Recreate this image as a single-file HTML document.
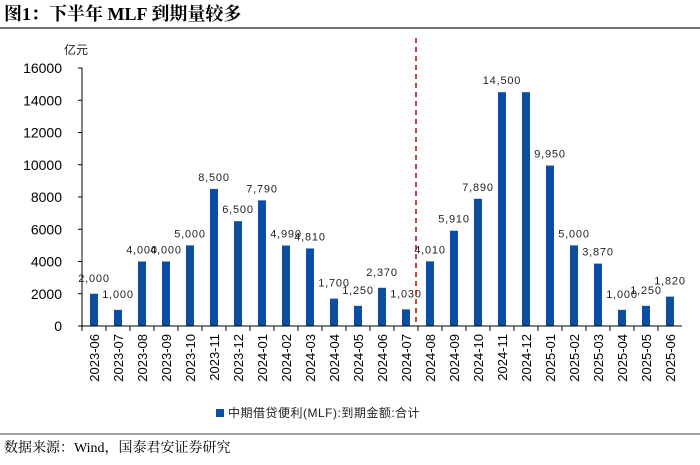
<!DOCTYPE html>
<html><head><meta charset="utf-8"><style>
body{margin:0;background:#fff;width:700px;height:460px;overflow:hidden;font-family:"Liberation Sans","Noto Sans CJK SC",sans-serif;}
</style></head><body>
<svg width="700" height="460" xmlns="http://www.w3.org/2000/svg">
<text x="4" y="20" font-size="18" font-weight="bold" font-family="Liberation Serif, Noto Serif CJK SC, serif" fill="#000">图1：下半年 MLF 到期量较多</text>
<line x1="0" y1="28" x2="700" y2="28" stroke="#444" stroke-width="1.5"/>
<text x="64" y="54" font-size="12" fill="#222">亿元</text>
<g id="yaxis"></g><g id="bars"></g><g id="xaxis"></g>
<line x1="416" y1="38" x2="416" y2="326" stroke="#c00000" stroke-width="1.5" stroke-dasharray="5,4"/>
<rect x="216" y="409" width="8" height="8" fill="#0c4ea2"/>
<text x="228" y="417" font-size="12" fill="#222" letter-spacing="0.5">中期借贷便利(MLF):到期金额:合计</text>
<line x1="0" y1="434" x2="700" y2="434" stroke="#444" stroke-width="1"/>
<text x="4" y="452" font-size="14" fill="#000" font-family="Liberation Serif, Noto Serif CJK SC, serif">数据来源：Wind，国泰君安证券研究</text>
</svg>
<script>
const categories=["2023-06","2023-07","2023-08","2023-09","2023-10","2023-11","2023-12","2024-01","2024-02","2024-03","2024-04","2024-05","2024-06","2024-07","2024-08","2024-09","2024-10","2024-11","2024-12","2025-01","2025-02","2025-03","2025-04","2025-05","2025-06"];
const values=[2000,1000,4000,4000,5000,8500,6500,7790,4990,4810,1700,1250,2370,1030,4010,5910,7890,14500,14500,9950,5000,3870,1000,1250,1820];
const valueLabels=["2,000","1,000","4,000","4,000","5,000","8,500","6,500","7,790","4,990","4,810","1,700","1,250","2,370","1,030","4,010","5,910","7,890","14,500","","9,950","5,000","3,870","1,000","1,250","1,820"];
const yTicks=[0,2000,4000,6000,8000,10000,12000,14000,16000];
const NS="http://www.w3.org/2000/svg";
const x0=82,step=24,y0=326,yTop=68,yMax=16000;
const ys=v=>y0-(v/yMax)*(y0-yTop);
const xc=i=>x0+step*(i+0.5);
function mk(t,a,p){const e=document.createElementNS(NS,t);for(const k in a)e.setAttribute(k,a[k]);p.appendChild(e);return e;}
const ya=document.getElementById('yaxis'),bg=document.getElementById('bars'),xa=document.getElementById('xaxis');
const al=mk('line',{x1:x0,y1:yTop,x2:x0,y2:y0,stroke:'#000'},ya);


yTicks.forEach(v=>{
 const t=mk('line',{x1:x0-4,y1:ys(v),x2:x0,y2:ys(v),stroke:'#000'},ya);
 
 
 const l=mk('text',{x:x0-20,y:ys(v)+5,'font-size':14,'text-anchor':'end',fill:'#000'},ya);
 l.textContent=v;
 
 
});
const xl=mk('line',{x1:x0,y1:y0,x2:x0+step*categories.length,y2:y0,stroke:'#000'},xa);


categories.forEach((c,i)=>{
 const tk=mk('line',{x1:x0+step*i,y1:y0,x2:x0+step*i,y2:y0+5,stroke:'#000'},xa);
 
 
 const t=mk('text',{x:0,y:0,'font-size':13,'text-anchor':'end',fill:'#000',transform:`translate(${xc(i)+5},${y0+8}) rotate(-90)`},xa);
 t.textContent=c;
 
 
 const v=values[i];
 const b=mk('rect',{x:xc(i)-4,y:ys(v),width:8,height:y0-ys(v),fill:'#0c4ea2'},bg);
 
 
 if(valueLabels[i]){
  let cx=Math.min(xc(i),672);
  const vl=mk('text',{x:cx,y:ys(v)-(v<3000?12:8),'font-size':11,'text-anchor':'middle',fill:'#222','letter-spacing':'0.8'},bg);
  vl.textContent=valueLabels[i];
  
  
 }
});
</script>
</body></html>
